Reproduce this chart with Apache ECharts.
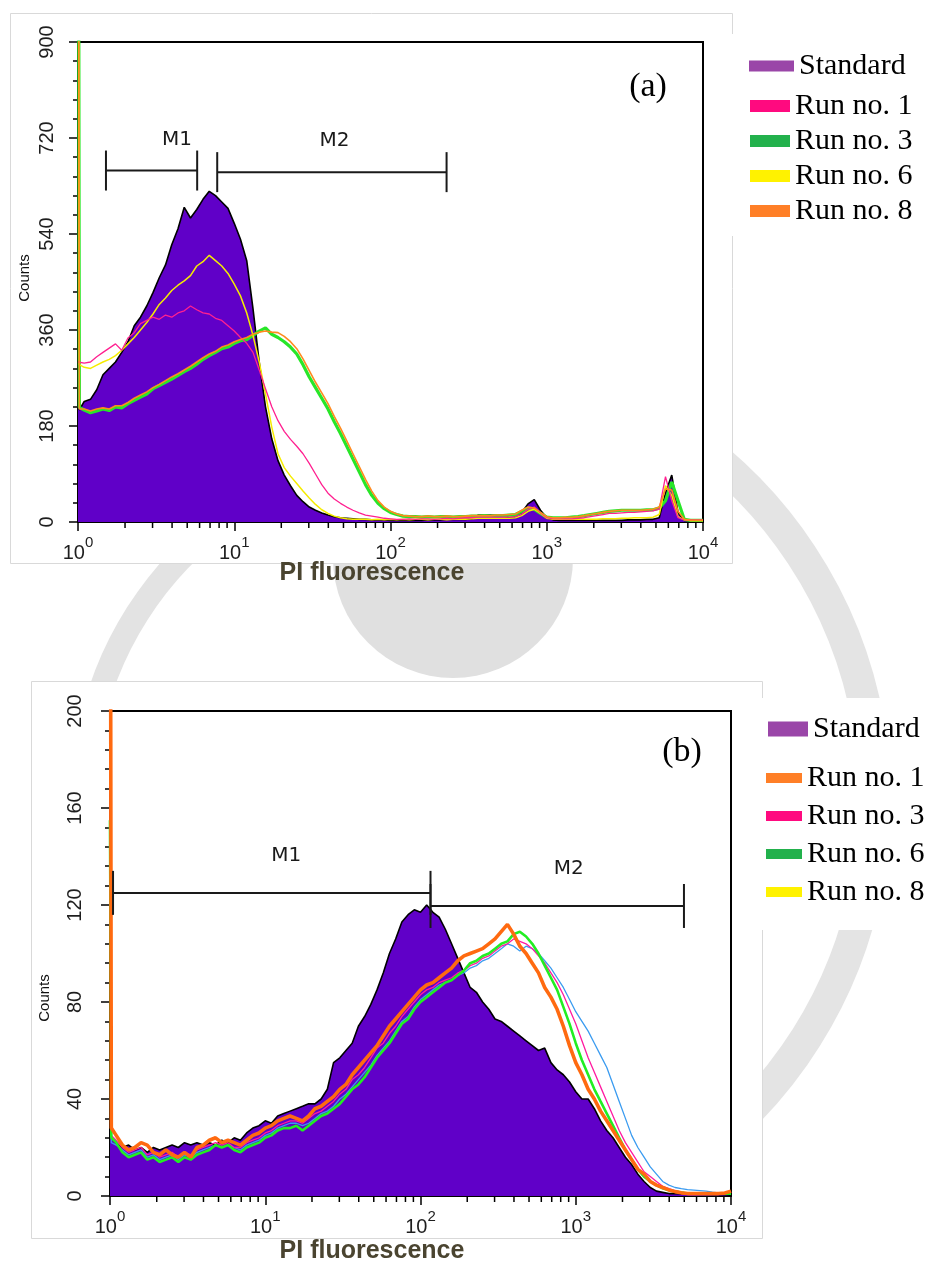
<!DOCTYPE html>
<html><head><meta charset="utf-8">
<script src="https://cdn.jsdelivr.net/npm/echarts@6/dist/echarts.min.js"></script>
<style>html,body{margin:0;padding:0;background:#fff}#c{width:935px;height:1266px}</style>
</head><body><div id="c"></div>
<script>
// PI fluorescence channel positions (log scale, 25 channels per decade)
const X = [1, 1.02, 1.096, 1.202, 1.318, 1.445, 1.585, 1.738, 1.905, 2.089, 2.291, 2.512, 2.754, 3.020, 3.311, 3.631, 3.981, 4.365, 4.786, 5.248, 5.754, 6.310, 6.918, 7.586, 8.318, 9.120,
  10, 10.96, 12.02, 13.18, 14.45, 15.85, 17.38, 19.05, 20.89, 22.91, 25.12, 27.54, 30.20, 33.11, 36.31, 39.81, 43.65, 47.86, 52.48, 57.54, 63.10, 69.18, 75.86, 83.18, 91.20,
  100, 109.6, 120.2, 131.8, 144.5, 158.5, 173.8, 190.5, 208.9, 229.1, 251.2, 275.4, 302.0, 331.1, 363.1, 398.1, 436.5, 478.6, 524.8, 575.4, 631.0, 691.8, 758.6, 831.8, 912.0,
  1000, 1096, 1202, 1318, 1445, 1585, 1738, 1905, 2089, 2291, 2512, 2754, 3020, 3311, 3631, 3981, 4365, 4786, 5248, 5754, 6310, 6918, 7586, 8318, 9120, 10000];

// ---- Panel (a) counts ----
const stdA = [1500, 210,
  226,230,248,276,288,300,318,338,368,384,
  405,430,458,482,520,550,590,570,586,605,
  620,612,600,588,560,530,490,400,300,216,
  156,115,88,68,50,38,28,22,17,13,
  10,8,7,6,5,5,4,4,4,3,
  3,3,3,3,3,4,4,4,5,5,
  5,5,6,13,13,13,12,12,8,10,
  18,34,42,22,8,4,3,3,3,3,
  3,3,3,3,3,3,3,4,4,4,
  5,5,8,55,88,18,3,2,2,2];
const run1A = [300, 300,
  298,300,310,318,326,334,322,345,355,372,
  378,384,380,388,384,392,396,405,398,392,
  390,382,378,368,358,346,335,318,285,250,
  216,190,170,155,142,128,110,90,70,54,
  43,35,28,22,17,13,11,9,7,6,
  5,5,6,5,6,6,5,6,7,6,
  7,8,8,9,9,9,9,9,9,10,
  15,24,28,17,8,6,6,6,6,7,
  8,10,12,14,16,16,17,18,18,19,
  20,21,24,85,40,8,4,4,4,4];
const run3A = [2000, 215,
  210,205,208,212,209,216,214,222,228,234,
  240,250,256,262,268,275,282,288,296,305,
  312,318,325,328,335,340,342,350,358,364,
  352,346,338,328,315,295,272,252,232,212,
  188,166,142,118,94,70,50,35,25,18,
  14,11,10,10,9,10,9,10,10,9,
  10,10,11,11,12,11,12,12,13,14,
  20,26,24,16,9,8,8,8,9,10,
  12,14,16,18,20,21,22,22,22,22,
  23,23,26,40,75,40,5,3,3,3];
const run6A = [1500, 295,
  290,288,294,300,305,312,322,334,346,360,
  374,390,408,420,434,444,452,462,480,488,
  500,490,480,466,446,424,392,350,300,240,
  178,128,102,86,72,58,45,33,23,16,
  11,8,6,5,5,5,4,5,4,5,
  4,5,4,5,5,4,5,5,4,5,
  5,5,6,7,7,7,7,7,7,8,
  12,20,24,16,7,5,5,5,5,5,
  5,5,5,6,6,6,7,7,8,8,
  8,9,14,68,50,10,4,3,3,3];
const run8A = [2000, 212,
  212,208,212,214,212,218,218,224,232,238,
  244,252,258,265,272,278,285,292,300,308,
  315,320,328,332,338,342,346,352,356,358,
  356,355,348,338,325,306,284,262,242,222,
  198,176,152,128,104,80,58,40,28,20,
  15,12,11,10,10,11,10,10,11,10,
  10,11,12,12,12,12,13,13,14,15,
  22,28,26,18,10,8,8,9,9,10,
  12,14,16,18,20,21,22,22,22,22,
  23,24,28,62,60,20,5,3,3,3];

// ---- Panel (b) counts ----
const stdB = [400, 24,
  22,20,21,19,20,18,20,19,20,21,
  20,22,21,22,21,22,21,23,22,24,
  23,26,28,29,31,30,33,34,35,36,
  37,38,38,40,44,55,57,60,63,70,
  74,79,85,92,100,106,113,116,118,117,
  120,117,115,110,104,98,92,86,84,80,
  77,73,72,70,68,66,64,62,60,61,
  55,52,50,47,43,40,40,36,31,27,
  24,20,16,13,9,6,3.5,2,1.5,1,
  1,1,0.8,0.8,0.6,0.6,0.5,0.5,0.5,0.5];
const run1B = [400, 28,
  25,21,19,20,22,21,18,17,19,17,
  16,18,16,20,21,23,24,22,23,22,
  21,23,25,26,28,29,31,32,33,32,
  31,33,36,37,39,41,44,46,50,53,
  56,59,62,66,70,73,76,79,82,85,
  87,88,90,92,94,97,99,100,101,102,
  104,106,109,112,108,103,100,96,92,86,
  82,77,70,62,55,50,44,40,35,31,
  27,23,19,15,11,9,6,4.5,3.5,2.5,
  1.8,1.3,1,1,1,1,1,1,1.2,2];
const run3B = [190, 25,
  23,20,18,19,20,17,18,16,17,18,
  16,18,17,19,20,21,22,21,22,20,
  20,22,23,24,26,27,29,30,31,31,
  30,32,34,35,37,39,42,44,48,50,
  53,57,61,63,67,70,74,77,80,83,
  85,86,88,89,90,92,93,95,96,98,
  99,101,103,104,106,105,104,102,99,96,
  92,88,83,77,71,64,57,51,45,39,
  33,27,22,18,14,10,8,6,4,3,
  2.2,1.6,1.2,1,1,1,1,1,1,1];
const run6B = [155, 24,
  22,18,16,17,18,15,16,14,15,16,
  14,16,15,17,18,19,21,20,21,19,
  18,20,21,22,24,25,27,28,28,29,
  27,29,31,33,34,36,38,41,44,46,
  49,53,57,60,63,67,71,73,77,80,
  82,84,86,88,89,91,93,96,97,99,
  100,102,104,105,108,109,107,104,100,95,
  90,85,78,71,63,56,50,44,39,34,
  29,24,19,15,11,8,6,4.5,3.2,2.4,
  1.8,1.4,1,1,1,1,1,1,1,1];
const run8B = [150, 22,
  21,19,17,18,19,16,17,15,16,17,
  15,17,16,18,19,20,21,20,21,20,
  19,21,22,23,25,26,28,29,30,30,
  29,30,32,34,35,37,40,42,45,48,
  51,54,58,61,64,68,72,74,78,81,
  83,85,87,88,89,91,92,94,95,97,
  98,100,102,104,103,101,103,102,100,97,
  94,90,86,81,76,72,68,63,58,53,
  46,39,32,25,20,16,12,9,6,4.5,
  3.5,3,2.6,2.4,2.2,2,1.6,1.3,1,1];

// ---- Marker gates (M1, M2) ----
const gateNames = ['M1', 'M2'];
const gateFromA = [1.51, 7.78], gateToA = [5.79, 228.5], gateLevelA = [659, 656], gateLabelXA = [4.3, 43.8];
const gateFromB = [1.046, 116], gateToB = [116, 4977], gateLevelB = [125, 119.6], gateLabelXB = [13.66, 901];

// ---- Axis ticks ----
const yTicksA = [0, 900, 180];
const yTicksB = [0, 200, 40];
const legendNames = ['Standard', 'Run no. 1', 'Run no. 3', 'Run no. 6', 'Run no. 8'];
const legendColorsA = ['#9a46a8', '#ff0a7f', '#22b14c', '#fff200', '#ff7f27'];
const legendColorsB = ['#9a46a8', '#ff7f27', '#ff0a7f', '#22b14c', '#fff200'];

const minorTicks = [];
for (let d = 0; d < 4; d++) for (let m = 2; m <= 9; m++) minorTicks.push([m * Math.pow(10, d), 0]);

const pts = ys => X.map((x, i) => [x, ys[i]]);
const D = Math.PI / 180;

function xAxis(gi) {
  return {
    type: 'log', logBase: 10, gridIndex: gi, min: 1, max: 10000, splitNumber: 4,
    axisLine: {show: true, onZero: false, lineStyle: {color: '#000', width: 2}},
    axisTick: {show: true, length: 9, lineStyle: {color: '#000', width: 1.5}},
    splitLine: {show: false}, minorTick: {show: false}, minorSplitLine: {show: false},
    axisLabel: {
      margin: 13, showMinLabel: true, showMaxLabel: true, hideOverlap: false,
      formatter: v => '{b|10}{s|' + Math.round(Math.log10(v)) + '}',
      rich: {
        b: {fontSize: 20, fontFamily: 'Liberation Sans', color: '#1e1e1e', verticalAlign: 'bottom'},
        s: {fontSize: 15, fontFamily: 'Liberation Sans', color: '#1e1e1e', verticalAlign: 'top', padding: [0, 0, 13, 0]}
      }
    }
  };
}
function yAxis(gi, t, margin) {
  return {
    type: 'value', gridIndex: gi, min: t[0], max: t[1], interval: t[2],
    axisLine: {show: true, onZero: false, lineStyle: {color: '#000', width: 2}},
    axisTick: {show: true, length: 9, lineStyle: {color: '#000', width: 1.5}},
    minorTick: {show: true, splitNumber: 5, length: 5, lineStyle: {color: '#000', width: 1.5}},
    splitLine: {show: false},
    axisLabel: {rotate: 90, margin: margin, fontFamily: 'Liberation Sans', fontSize: 20, color: '#1e1e1e',
      showMinLabel: true, showMaxLabel: true, hideOverlap: false}
  };
}
function line(name, gi, ys, color, width, z) {
  return {type: 'line', name, xAxisIndex: gi, yAxisIndex: gi, data: pts(ys), showSymbol: false, symbol: 'none',
    silent: true, animation: false, z: z, itemStyle: {color}, lineStyle: {color, width}};
}
function stdSeries(gi, ys) {
  return {type: 'line', name: 'Standard', xAxisIndex: gi, yAxisIndex: gi, data: pts(ys), showSymbol: false, symbol: 'none',
    silent: true, animation: false, z: 2, itemStyle: {color: '#6000c8'},
    lineStyle: {color: '#000', width: 1.6}, areaStyle: {color: '#6000c8', opacity: 1}};
}
function minorTickSeries(gi) {
  return {type: 'custom', xAxisIndex: gi, yAxisIndex: gi, data: minorTicks, clip: false, silent: true, animation: false, z: 5,
    renderItem: (params, api) => {
      const p = api.coord([api.value(0), 0]);
      return {type: 'line', shape: {x1: p[0], y1: p[1], x2: p[0], y2: p[1] + 6}, style: {stroke: '#000', lineWidth: 1.5}};
    }};
}
function gateSeries(gi, from, to, level, labelX, half, lift) {
  return {type: 'custom', xAxisIndex: gi, yAxisIndex: gi, clip: false, silent: true, animation: false, z: 6,
    data: from.map((f, i) => [f, to[i], level[i], labelX[i]]),
    renderItem: (params, api) => {
      const a = api.coord([api.value(0), api.value(2)]);
      const b = api.coord([api.value(1), api.value(2)]);
      const t = api.coord([api.value(3), api.value(2)]);
      const st = {stroke: '#1a1a1a', lineWidth: 2};
      return {type: 'group', children: [
        {type: 'line', shape: {x1: a[0], y1: a[1], x2: b[0], y2: b[1]}, style: st},
        {type: 'line', shape: {x1: a[0], y1: a[1] - half, x2: a[0], y2: a[1] + half}, style: st},
        {type: 'line', shape: {x1: b[0], y1: b[1] - half, x2: b[0], y2: b[1] + half}, style: st},
        {type: 'text', x: t[0], y: t[1] - lift, style: {text: gateNames[params.dataIndex], fill: '#1a1a1a',
          font: '20px "DejaVu Sans"', align: 'center', verticalAlign: 'middle', textAlign: 'center', textVerticalAlign: 'middle'}}
      ]};
    }};
}
function legend(names, colors, left, top, iw, ih, gap) {
  return {orient: 'vertical', left, top, padding: 0, itemGap: gap, itemWidth: iw, itemHeight: ih, icon: 'rect',
    selectedMode: false, backgroundColor: 'transparent', align: 'left',
    textStyle: {fontFamily: 'Liberation Serif', fontSize: 30, color: '#000'},
    data: names.map((n, i) => ({name: n, icon: 'rect', itemStyle: {color: colors[i], borderColor: colors[i], borderWidth: 0, opacity: 1}}))};
}
function txt(x, y, text, font, fill, rot) {
  return {type: 'text', x, y, rotation: rot || 0, z: 10,
    style: {text, font, fill, align: 'center', verticalAlign: 'middle', textAlign: 'center', textVerticalAlign: 'middle'}};
}

const chart = echarts.init(document.getElementById('c'));
chart.setOption({
  animation: false,
  backgroundColor: '#fff',
  grid: [
    {left: 78, top: 42, width: 625, height: 480, show: true, borderColor: '#000', borderWidth: 2, backgroundColor: 'transparent', containLabel: false, outerBoundsMode: 'none'},
    {left: 110, top: 711, width: 621, height: 485, show: true, borderColor: '#000', borderWidth: 2, backgroundColor: 'transparent', containLabel: false, outerBoundsMode: 'none'}
  ],
  xAxis: [xAxis(0), xAxis(1)],
  yAxis: [yAxis(0, yTicksA, 21), yAxis(1, yTicksB, 25)],
  legend: [
    legend([legendNames[0]], [legendColorsA[0]], 749, 51, 45, 11, 5),
    legend(legendNames.slice(1), legendColorsA.slice(1), 750, 91, 40, 12, 5),
    legend([legendNames[0]], [legendColorsB[0]], 768, 714, 40, 15, 8),
    legend(legendNames.slice(1), legendColorsB.slice(1), 766, 763, 36, 10, 8)
  ],
  series: [
    stdSeries(0, stdA),
    line('Run no. 3', 0, run3A, '#28e628', 3.2, 3),
    line('Run no. 6', 0, run6A, '#f5ec00', 1.5, 3),
    line('Run no. 1', 0, run1A, '#ff2090', 1.3, 3),
    line('Run no. 8', 0, run8A, '#ff8a1e', 1.6, 3),
    minorTickSeries(0),
    gateSeries(0, gateFromA, gateToA, gateLevelA, gateLabelXA, 20, 31),
    stdSeries(1, stdB),
    line('Run no. 8', 1, run8B, '#3a9bf0', 1.3, 3),
    line('Run no. 3', 1, run3B, '#ff1aa0', 1.3, 3),
    line('Run no. 6', 1, run6B, '#22ee22', 2.6, 3),
    line('Run no. 1', 1, run1B, '#ff6a10', 3.6, 3),
    minorTickSeries(1),
    gateSeries(1, gateFromB, gateToB, gateLevelB, gateLabelXB, 22, 37)
  ],
  graphic: {elements: [
    {type: 'circle', z: -10, silent: true, shape: {cx: 453, cy: 558, r: 120}, style: {fill: '#e0e0e0'}},
    {type: 'arc', z: -10, silent: true, shape: {cx: 430, cy: 800, r: 347, startAngle: 190 * D, endAngle: 235 * D, clockwise: true}, style: {stroke: '#e3e3e3', lineWidth: 24, fill: null}},
    {type: 'arc', z: -10, silent: true, shape: {cx: 430, cy: 800, r: 445, startAngle: -55 * D, endAngle: 60 * D, clockwise: true}, style: {stroke: '#e4e4e4', lineWidth: 32, fill: null}},
    {type: 'rect', z: -5, silent: true, shape: {x: 10.5, y: 13.5, width: 722, height: 550}, style: {fill: '#fff', stroke: '#d9d9d9', lineWidth: 1}},
    {type: 'rect', z: -5, silent: true, shape: {x: 31.5, y: 681.5, width: 731, height: 557}, style: {fill: '#fff', stroke: '#d9d9d9', lineWidth: 1}},
    {type: 'rect', z: -4, silent: true, shape: {x: 726, y: 34, width: 209, height: 202}, style: {fill: '#fff'}},
    {type: 'rect', z: -4, silent: true, shape: {x: 752, y: 698, width: 183, height: 232}, style: {fill: '#fff'}},
    txt(25, 278, 'Counts', '15px "Liberation Sans"', '#111', Math.PI / 2),
    txt(45, 998, 'Counts', '15px "Liberation Sans"', '#111', Math.PI / 2),
    txt(372, 573, 'PI fluorescence', 'bold 25px "Liberation Sans"', '#4a4430'),
    txt(372, 1251, 'PI fluorescence', 'bold 25px "Liberation Sans"', '#4a4430'),
    txt(648, 87, '(a)', '34px "Liberation Serif"', '#000'),
    txt(682, 752, '(b)', '34px "Liberation Serif"', '#000')
  ]}
});
</script>
</body></html>
